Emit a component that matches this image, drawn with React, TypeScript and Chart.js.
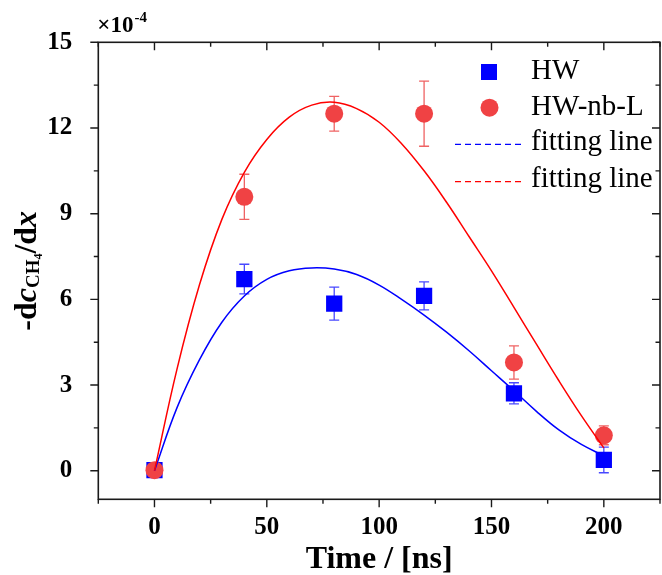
import React, { useEffect, useRef } from "react";
import { Chart, registerables } from "chart.js";

Chart.register(...registerables);

// ---- data (values in units of 1e-4) ----
const times = [0, 40, 80, 120, 160, 200];
const hwValues = [0.02, 6.71, 5.85, 6.12, 2.71, 0.38];
const hwErrors = [0, 0.52, 0.58, 0.49, 0.37, 0.45];
const hwnbValues = [0.02, 9.59, 12.5, 12.5, 3.79, 1.24];
const hwnbErrors = [0, 0.79, 0.61, 1.14, 0.58, 0.33];

const fitTimes = [0, 10, 20, 30, 40, 50, 60, 70, 80, 90, 100, 110, 120, 130, 140, 150, 160, 170, 180, 190, 200];
const hwFit = [0, 2.2, 3.88, 5.2, 6.12, 6.7, 7.0, 7.1, 7.06, 6.87, 6.5, 6.0, 5.45, 4.85, 4.2, 3.5, 2.8, 2.08, 1.43, 0.92, 0.52];
const hwnbFit = [0, 3.55, 6.5, 8.8, 10.45, 11.6, 12.38, 12.8, 12.9, 12.68, 12.2, 11.45, 10.5, 9.4, 8.2, 7.0, 5.72, 4.43, 3.15, 1.93, 0.8];

const xTickValues = [0, 50, 100, 150, 200];
const xMinorTicks = [-25, 25, 75, 125, 175, 225];
const yTickValues = [0, 3, 6, 9, 12, 15];
const yMinorTicks = [1.5, 4.5, 7.5, 10.5, 13.5];

const legendLabels = ["HW", "HW-nb-L", "fitting line", "fitting line"];
const xTitle = "Time / [ns]";

const SERIF = '"Liberation Serif", "Times New Roman", serif';
const BLUE = "#0000ff";
const RED = "#ff0000";
const RED_MARK = "rgb(240,66,68)";

const decorPlugin = {
  id: "decor",
  beforeDatasetsDraw(chart: any) {
    const { ctx, scales } = chart;
    const xs = scales.x;
    const ys = scales.y;
    const drawErr = (vals: number[], errs: number[], color: string) => {
      ctx.save();
      ctx.strokeStyle = color;
      ctx.lineWidth = 1.3;
      ctx.beginPath();
      for (let i = 0; i < times.length; i++) {
        if (!errs[i]) continue;
        const px = xs.getPixelForValue(times[i]);
        const t = ys.getPixelForValue(vals[i] + errs[i]);
        const b = ys.getPixelForValue(vals[i] - errs[i]);
        ctx.moveTo(px, t);
        ctx.lineTo(px, b);
        ctx.moveTo(px - 5, t);
        ctx.lineTo(px + 5, t);
        ctx.moveTo(px - 5, b);
        ctx.lineTo(px + 5, b);
      }
      ctx.stroke();
      ctx.restore();
    };
    drawErr(hwValues, hwErrors, "rgba(40,40,255,0.85)");
    drawErr(hwnbValues, hwnbErrors, "rgba(236,70,72,0.85)");
  },
  afterDraw(chart: any) {
    const { ctx, chartArea, scales } = chart;
    const { left, right, top, bottom } = chartArea;
    const xs = scales.x;
    const ys = scales.y;
    ctx.save();
    // frame
    ctx.strokeStyle = "#1a1a1a";
    ctx.lineWidth = 1.6;
    ctx.strokeRect(left, top, right - left, bottom - top);
    // ticks
    ctx.lineWidth = 1.4;
    ctx.beginPath();
    for (const v of xTickValues) {
      const px = xs.getPixelForValue(v);
      ctx.moveTo(px, bottom);
      ctx.lineTo(px, bottom + 8);
      ctx.moveTo(px, top);
      ctx.lineTo(px, top + 8);
    }
    for (const v of xMinorTicks) {
      const px = xs.getPixelForValue(v);
      ctx.moveTo(px, bottom);
      ctx.lineTo(px, bottom + 4.5);
      ctx.moveTo(px, top);
      ctx.lineTo(px, top + 4.5);
    }
    for (const v of yTickValues) {
      const py = ys.getPixelForValue(v);
      ctx.moveTo(left, py);
      ctx.lineTo(left - 8, py);
      ctx.moveTo(right, py);
      ctx.lineTo(right - 8, py);
    }
    for (const v of yMinorTicks) {
      const py = ys.getPixelForValue(v);
      ctx.moveTo(left, py);
      ctx.lineTo(left - 4.5, py);
      ctx.moveTo(right, py);
      ctx.lineTo(right - 4.5, py);
    }
    ctx.stroke();

    // multiplier label
    ctx.fillStyle = "#000";
    ctx.textBaseline = "alphabetic";
    ctx.textAlign = "left";
    ctx.font = `bold 23px ${SERIF}`;
    ctx.fillText("×10", left - 1, 32);
    const w10 = ctx.measureText("×10").width;
    ctx.font = `bold 15px ${SERIF}`;
    ctx.fillText("-4", left - 1 + w10 + 1, 22);

    // x title
    ctx.font = `bold 32px ${SERIF}`;
    ctx.textAlign = "center";
    ctx.fillText(xTitle, (left + right) / 2, 568);

    // y title (rich text, rotated)
    const parts = [
      { t: "-d", f: `bold 32px ${SERIF}`, dy: 0 },
      { t: "c", f: `italic bold 32px ${SERIF}`, dy: 0 },
      { t: "CH", f: `bold 19px ${SERIF}`, dy: 3 },
      { t: "4", f: `bold 12px ${SERIF}`, dy: 6 },
      { t: "/d", f: `bold 32px ${SERIF}`, dy: 0 },
      { t: "x", f: `italic bold 32px ${SERIF}`, dy: 0 },
    ];
    ctx.textAlign = "left";
    let total = 0;
    const widths = parts.map((p) => {
      ctx.font = p.f;
      const w = ctx.measureText(p.t).width;
      total += w;
      return w;
    });
    ctx.save();
    ctx.translate(36, (top + bottom) / 2);
    ctx.rotate(-Math.PI / 2);
    let u = -total / 2;
    parts.forEach((p, i) => {
      ctx.font = p.f;
      ctx.fillText(p.t, u, p.dy);
      u += widths[i];
    });
    ctx.restore();

    // legend
    const lx = 489;
    const tx = 531;
    ctx.fillStyle = BLUE;
    ctx.fillRect(lx - 8, 64, 16, 16);
    ctx.fillStyle = RED_MARK;
    ctx.beginPath();
    ctx.arc(lx + 0.5, 107.7, 9, 0, Math.PI * 2);
    ctx.fill();
    ctx.lineWidth = 1.2;
    ctx.setLineDash([6, 4]);
    ctx.strokeStyle = BLUE;
    ctx.beginPath();
    ctx.moveTo(455, 144.3);
    ctx.lineTo(523, 144.3);
    ctx.stroke();
    ctx.strokeStyle = RED;
    ctx.beginPath();
    ctx.moveTo(455, 181.7);
    ctx.lineTo(523, 181.7);
    ctx.stroke();
    ctx.setLineDash([]);
    ctx.fillStyle = "#000";
    ctx.font = `29px ${SERIF}`;
    const baselines = [78.5, 115, 150, 187];
    legendLabels.forEach((l, i) => ctx.fillText(l, tx, baselines[i]));
    ctx.restore();
  },
};

export default function App() {
  const ref = useRef<HTMLCanvasElement | null>(null);
  useEffect(() => {
    if (!ref.current) return;
    const tickFont = { family: SERIF, size: 25, weight: "bold" as const };
    const chart = new Chart(ref.current, {
      type: "scatter",
      data: {
        datasets: [
          {
            type: "line",
            label: "fitting line HW",
            data: fitTimes.map((t, i) => ({ x: t, y: hwFit[i] })),
            borderColor: BLUE,
            borderWidth: 1.5,
            pointRadius: 0,
            tension: 0.4,
            fill: false,
            order: 2,
          } as any,
          {
            type: "line",
            label: "fitting line HW-nb-L",
            data: fitTimes.map((t, i) => ({ x: t, y: hwnbFit[i] })),
            borderColor: RED,
            borderWidth: 1.5,
            pointRadius: 0,
            tension: 0.4,
            fill: false,
            order: 1,
          } as any,
          {
            label: "HW",
            data: times.map((t, i) => ({ x: t, y: hwValues[i] })),
            pointStyle: "rect",
            pointRadius: 11.5,
            backgroundColor: BLUE,
            borderWidth: 0,
            order: 4,
          },
          {
            label: "HW-nb-L",
            data: times.map((t, i) => ({ x: t, y: hwnbValues[i] })),
            pointStyle: "circle",
            pointRadius: 9,
            backgroundColor: RED_MARK,
            borderWidth: 0,
            order: 3,
          },
        ],
      },
      options: {
        animation: false,
        responsive: false,
        devicePixelRatio: 1,
        layout: { autoPadding: false, padding: { left: 0, top: 42.3, right: 2, bottom: 0 } },
        plugins: { legend: { display: false }, tooltip: { enabled: false } },
        events: [],
        scales: {
          x: {
            type: "linear",
            min: -25,
            max: 225,
            afterBuildTicks: (s: any) => {
              s.ticks = xTickValues.map((v) => ({ value: v }));
            },
            afterFit: (s: any) => {
              s.height = 75.7;
              s.paddingLeft = 0;
              s.paddingRight = 0;
            },
            ticks: { font: tickFont, color: "#000", padding: 13, maxRotation: 0, autoSkip: false },
            grid: { display: true, drawOnChartArea: false, drawTicks: true, tickLength: 0, color: "rgba(0,0,0,0)" },
            border: { display: false },
          },
          y: {
            type: "linear",
            min: -1,
            max: 15,
            afterBuildTicks: (s: any) => {
              s.ticks = yTickValues.map((v) => ({ value: v }));
            },
            afterFit: (s: any) => {
              s.width = 98.3;
              s.paddingTop = 0;
              s.paddingBottom = 0;
            },
            ticks: { font: tickFont, color: "#000", padding: 26, autoSkip: false },
            grid: { display: true, drawOnChartArea: false, drawTicks: true, tickLength: 0, color: "rgba(0,0,0,0)" },
            border: { display: false },
          },
        },
      },
      plugins: [decorPlugin],
    });
    return () => chart.destroy();
  }, []);
  return (
    <div style={{ position: "absolute", left: 0, top: 0, width: 662, height: 575, background: "#fff" }}>
      <canvas ref={ref} width={662} height={575} style={{ display: "block" }} />
    </div>
  );
}
